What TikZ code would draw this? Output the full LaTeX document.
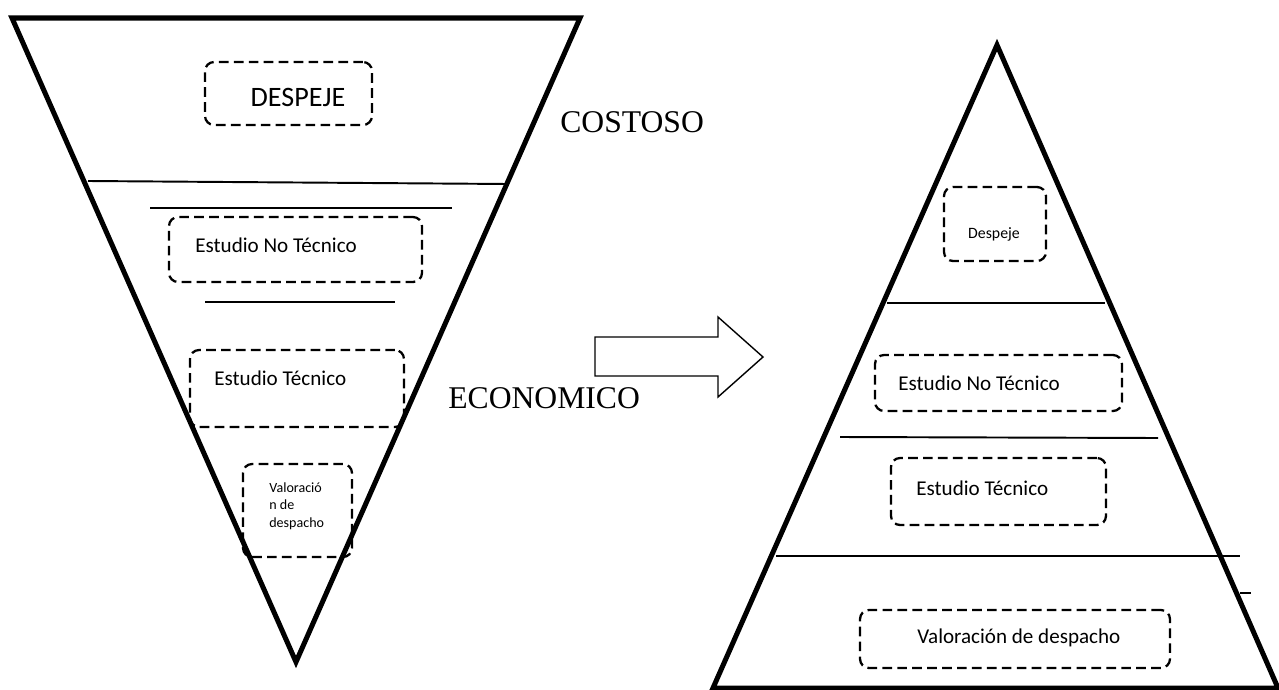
\documentclass[tikz,border=0pt]{standalone}
\usepackage{fontspec}
\setmainfont{Carlito}
\newfontfamily\timesfont{Liberation Serif}
\begin{document}
\begin{tikzpicture}[x=0.02cm,y=-0.02cm,
    dbox/.style={draw,line width=1.3pt,dash pattern=on 5.5pt off 3pt,rounded corners=0.18cm,inner sep=0pt,outer sep=0pt},
    lbl/.style={inner sep=0pt,anchor=west,font=\fontsize{12}{14}\selectfont},
    big/.style={inner sep=0pt,anchor=west,font=\timesfont\fontsize{18}{20}\selectfont},
    thick line/.style={line width=2.85pt,line join=miter},
    thin line/.style={line width=1.1pt}]
        \useasboundingbox (0,0) rectangle (1279,690);
        % dashed boxes, inverted triangle
        \node[dbox,minimum width=3.34cm,minimum height=1.26cm] (despejeA) at (288.5,93.5) {};
        \node[dbox,minimum width=5.06cm,minimum height=1.30cm] (notecA) at (295.5,249.5) {};
        \node[dbox,minimum width=4.28cm,minimum height=1.54cm] (tecA) at (297,388.5) {};
        \node[dbox,minimum width=2.18cm,minimum height=1.86cm] (valA) at (297.5,510.5) {};
        \node[inner sep=0pt,font=\fontsize{16}{18}\selectfont] (despejeAt) at (298,97) {DESPEJE};
        \node[lbl] (notecAt) at (195,245) {Estudio No Técnico};
        \node[lbl] (tecAt) at (214,378) {Estudio Técnico};
        \node[lbl,align=left,font=\fontsize{8}{10}\selectfont] (valAt) at (269,506) {Valoració\\n de\\despacho};
        % dashed boxes, pyramid
        \node[dbox,minimum width=2.04cm,minimum height=1.48cm] (despejeB) at (995,224) {};
        \node[dbox,minimum width=4.94cm,minimum height=1.12cm] (notecB) at (998.5,383) {};
        \node[dbox,minimum width=4.30cm,minimum height=1.34cm] (tecB) at (998.5,491.5) {};
        \node[dbox,minimum width=6.20cm,minimum height=1.16cm] (valB) at (1015,639) {};
        \node[inner sep=0pt,font=\fontsize{9}{11}\selectfont] (despejeBt) at (994,234) {Despeje};
        \node[lbl] (notecBt) at (898,383) {Estudio No Técnico};
        \node[lbl] (tecBt) at (916,488) {Estudio Técnico};
        \node[lbl] (valBt) at (917,638) {Valoración de despacho};
        % side labels
        \node[big] (costoso) at (560,122.5) {COSTOSO};
        \node[big] (economico) at (448,398.5) {ECONOMICO};
        % triangles and separators
        \draw[thick line] (12,18) -- (580,18) -- (296,662) -- cycle;
        \draw[thick line] (997,45) -- (1278,688) -- (713,688) -- cycle;
        \draw[thin line] (88,181) -- (508,184);
        \draw[thin line] (150,208) -- (452,208);
        \draw[thin line] (205,302) -- (395,302);
        \draw[thin line] (887,303) -- (1105,303);
        \draw[thin line] (840,437) -- (1158,438);
        \draw[thin line] (776,556) -- (1240,556);
        \draw[thin line] (1240,593) -- (1251,593);
        % block arrow
        \draw[line width=0.8pt] (595,337) -- (718,337) -- (718,317) -- (763,357)
          -- (718,397) -- (718,376) -- (595,376) -- cycle;
      \end{tikzpicture}
\end{document}
